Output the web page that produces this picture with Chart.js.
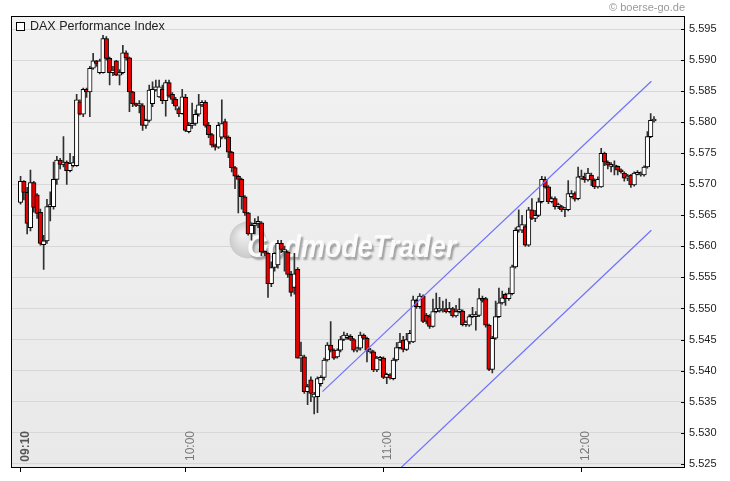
<!DOCTYPE html>
<html>
<head>
<meta charset="utf-8">
<script src="https://cdn.jsdelivr.net/npm/chart.js"></script>
<style>
  html, body { margin: 0; padding: 0; background: #fff; }
</style>
</head>
<body>
<canvas id="myChart" width="730" height="481"></canvas>
<script>
// one candle per minute, index 0 = 09:10
const opens = [
  5567.1, 5570.5, 5568.7, 5563.0, 5570.3, 5568.3, 5565.5, 5560.3, 5560.9, 5566.4,
  5566.4, 5570.8, 5573.9, 5573.2, 5573.6, 5572.2, 5573.0, 5573.0, 5583.3, 5581.3,
  5585.3, 5584.9, 5588.7, 5589.9, 5588.0, 5588.0, 5593.5, 5590.3, 5588.0, 5589.9,
  5587.6, 5588.0, 5591.2, 5590.4, 5584.9, 5583.0, 5582.7, 5582.7, 5579.5, 5580.3,
  5583.0, 5585.2, 5584.1, 5585.3, 5583.5, 5586.4, 5584.5, 5583.7, 5582.2, 5581.4,
  5584.0, 5578.5, 5579.5, 5579.8, 5581.3, 5582.8, 5583.2, 5579.5, 5578.0, 5576.3,
  5576.0, 5577.6, 5580.1, 5577.6, 5575.2, 5572.7, 5571.3, 5570.8, 5568.0, 5565.4,
  5562.0, 5563.4, 5563.7, 5563.8, 5559.1, 5558.9, 5554.0, 5556.6, 5557.0, 5560.5,
  5559.1, 5559.1, 5555.5, 5553.4, 5556.3, 5542.0, 5542.2, 5536.6, 5538.5, 5535.7,
  5535.8, 5537.9, 5538.9, 5541.7, 5544.1, 5543.3, 5542.2, 5543.3, 5545.0, 5545.3,
  5545.5, 5545.0, 5543.3, 5543.6, 5545.7, 5545.2, 5543.0, 5543.0, 5540.1, 5541.8,
  5542.0, 5538.9, 5539.3, 5538.7, 5541.7, 5543.7, 5544.9, 5543.4, 5544.6, 5544.6,
  5551.3, 5550.3, 5552.0, 5548.9, 5548.7, 5547.1, 5549.5, 5549.6, 5549.6, 5550.0,
  5549.5, 5550.0, 5548.8, 5549.5, 5549.6, 5547.4, 5547.3, 5548.7, 5548.7, 5548.9,
  5551.6, 5551.6, 5547.3, 5540.2, 5545.2, 5548.7, 5550.9, 5552.3, 5551.6, 5552.4,
  5556.7, 5562.6, 5562.6, 5563.2, 5560.2, 5565.9, 5564.5, 5565.0, 5567.2, 5570.8,
  5569.6, 5567.2, 5567.7, 5566.4, 5566.4, 5565.9, 5565.9, 5568.0, 5568.5, 5567.7,
  5571.0, 5571.1, 5570.7, 5571.5, 5570.7, 5569.6, 5569.6, 5575.0, 5573.6, 5572.9,
  5572.8, 5572.9, 5572.3, 5571.8, 5571.0, 5571.5, 5569.9, 5571.6, 5571.5, 5571.5,
  5572.8, 5577.7, 5580.2
];
const highs = [
  5571.3, 5570.6, 5569.5, 5572.3, 5570.5, 5568.5, 5566.0, 5561.8, 5567.6, 5568.8,
  5573.6, 5574.5, 5574.2, 5577.7, 5573.8, 5575.0, 5574.5, 5584.5, 5583.6, 5585.5,
  5585.5, 5589.0, 5591.1, 5590.0, 5590.2, 5594.0, 5593.8, 5590.5, 5589.0, 5590.0,
  5588.5, 5592.4, 5591.5, 5590.5, 5585.0, 5583.1, 5583.5, 5583.0, 5580.5, 5586.0,
  5586.5, 5586.8, 5586.8, 5586.0, 5586.8, 5586.8, 5584.8, 5584.0, 5582.5, 5585.3,
  5584.5, 5580.0, 5583.1, 5582.0, 5584.5, 5583.5, 5583.5, 5580.0, 5578.2, 5576.5,
  5580.0, 5583.6, 5580.5, 5577.8, 5575.3, 5572.9, 5571.5, 5571.0, 5568.2, 5565.5,
  5563.8, 5564.5, 5564.8, 5564.0, 5559.3, 5559.0, 5557.5, 5559.0, 5561.0, 5561.0,
  5560.0, 5559.3, 5556.0, 5558.9, 5556.6, 5544.6, 5542.5, 5537.8, 5539.0, 5536.5,
  5539.0, 5539.2, 5542.0, 5544.5, 5547.9, 5543.5, 5543.5, 5545.5, 5546.2, 5546.0,
  5545.8, 5545.2, 5543.8, 5546.2, 5545.9, 5545.4, 5543.6, 5543.2, 5542.3, 5542.3,
  5542.2, 5539.6, 5539.5, 5542.0, 5544.5, 5546.0, 5545.5, 5546.0, 5546.5, 5552.0,
  5551.5, 5552.4, 5552.2, 5549.2, 5549.0, 5551.5, 5552.5, 5551.8, 5551.2, 5551.5,
  5551.0, 5550.2, 5550.5, 5551.6, 5549.8, 5548.0, 5549.0, 5550.2, 5549.5, 5553.2,
  5552.0, 5551.8, 5547.5, 5545.5, 5551.2, 5553.3, 5552.8, 5552.5, 5553.3, 5557.0,
  5563.0, 5565.9, 5565.0, 5563.5, 5566.3, 5567.7, 5565.8, 5567.8, 5571.3, 5571.2,
  5569.8, 5568.0, 5568.0, 5567.0, 5566.6, 5566.3, 5570.6, 5569.0, 5568.8, 5572.8,
  5572.3, 5571.8, 5572.6, 5571.8, 5570.9, 5571.2, 5575.8, 5575.2, 5573.8, 5573.5,
  5573.8, 5573.0, 5572.5, 5572.0, 5571.6, 5571.6, 5572.0, 5572.2, 5572.0, 5573.0,
  5578.5, 5581.4, 5580.9
];
const lows = [
  5566.8, 5567.5, 5562.0, 5562.5, 5565.5, 5564.5, 5560.2, 5556.3, 5560.5, 5564.1,
  5566.0, 5570.0, 5572.5, 5572.8, 5570.0, 5572.0, 5572.8, 5572.9, 5581.2, 5580.9,
  5584.0, 5580.9, 5588.5, 5589.0, 5587.8, 5587.9, 5590.0, 5586.0, 5587.5, 5587.5,
  5586.0, 5587.8, 5590.0, 5581.7, 5582.5, 5582.5, 5581.5, 5578.7, 5579.0, 5580.0,
  5582.5, 5585.0, 5584.0, 5583.0, 5581.0, 5584.0, 5583.0, 5582.0, 5580.9, 5581.3,
  5578.5, 5578.3, 5579.0, 5579.5, 5581.0, 5582.5, 5579.2, 5577.5, 5576.0, 5575.5,
  5575.8, 5577.3, 5577.3, 5574.3, 5572.0, 5569.3, 5565.4, 5566.0, 5565.0, 5561.8,
  5561.0, 5562.0, 5563.0, 5558.5, 5558.5, 5551.8, 5553.5, 5556.0, 5556.5, 5559.0,
  5556.0, 5555.0, 5552.0, 5552.3, 5542.0, 5539.8, 5536.3, 5534.5, 5535.0, 5533.0,
  5533.2, 5537.5, 5538.5, 5541.5, 5543.0, 5541.8, 5542.0, 5543.0, 5544.8, 5545.0,
  5544.8, 5543.0, 5543.0, 5543.3, 5545.0, 5541.4, 5542.8, 5539.8, 5539.8, 5541.6,
  5538.7, 5537.9, 5538.6, 5538.5, 5541.5, 5543.5, 5543.0, 5543.2, 5544.3, 5544.5,
  5550.0, 5550.0, 5547.7, 5547.5, 5546.8, 5547.0, 5549.3, 5549.4, 5549.4, 5549.3,
  5549.3, 5548.6, 5548.6, 5549.3, 5547.2, 5547.1, 5547.1, 5548.5, 5546.5, 5548.7,
  5551.0, 5547.0, 5540.0, 5539.6, 5545.0, 5548.5, 5550.7, 5550.5, 5551.3, 5552.2,
  5556.5, 5562.3, 5562.2, 5560.0, 5560.0, 5564.3, 5564.0, 5564.8, 5567.0, 5569.4,
  5566.9, 5567.0, 5566.0, 5566.1, 5565.6, 5564.8, 5565.7, 5567.8, 5567.3, 5567.5,
  5570.8, 5570.3, 5570.5, 5569.8, 5569.3, 5569.4, 5569.5, 5573.0, 5572.5, 5572.0,
  5571.5, 5571.5, 5571.8, 5570.5, 5570.6, 5569.5, 5569.7, 5571.5, 5571.3, 5571.3,
  5572.6, 5577.5, 5580.0
];
const closes = [
  5570.5, 5568.7, 5563.7, 5570.3, 5566.3, 5565.3, 5560.5, 5560.9, 5566.4, 5566.6,
  5570.8, 5573.9, 5573.2, 5573.6, 5572.2, 5573.4, 5573.5, 5583.6, 5581.3, 5585.3,
  5584.9, 5588.7, 5589.9, 5589.5, 5589.9, 5593.5, 5590.3, 5588.0, 5588.4, 5587.6,
  5588.0, 5591.2, 5590.4, 5584.9, 5583.0, 5582.7, 5582.9, 5579.5, 5580.3, 5585.2,
  5585.3, 5585.7, 5585.7, 5583.5, 5586.4, 5584.2, 5583.7, 5582.6, 5581.4, 5584.1,
  5578.7, 5579.5, 5579.8, 5581.3, 5582.8, 5583.2, 5579.5, 5578.0, 5576.3, 5576.0,
  5579.5, 5579.8, 5577.6, 5575.2, 5572.7, 5571.3, 5570.8, 5568.0, 5565.4, 5562.0,
  5563.4, 5563.7, 5563.8, 5559.1, 5558.9, 5554.0, 5556.6, 5558.9, 5560.5, 5559.5,
  5559.5, 5555.5, 5552.6, 5555.6, 5542.0, 5542.4, 5536.6, 5537.4, 5536.3, 5536.2,
  5538.7, 5538.9, 5541.7, 5544.1, 5543.3, 5542.0, 5543.3, 5545.0, 5545.7, 5545.5,
  5545.0, 5543.3, 5543.6, 5545.7, 5545.2, 5543.3, 5543.3, 5540.1, 5542.0, 5542.0,
  5538.9, 5539.4, 5538.8, 5541.7, 5543.7, 5544.6, 5543.4, 5545.0, 5546.0, 5551.4,
  5550.3, 5552.0, 5547.9, 5547.9, 5547.1, 5549.5, 5550.0, 5550.0, 5549.9, 5549.5,
  5550.0, 5548.8, 5549.5, 5549.7, 5547.4, 5547.8, 5548.7, 5548.9, 5548.9, 5551.6,
  5551.3, 5547.3, 5540.2, 5545.2, 5548.7, 5550.9, 5551.7, 5551.6, 5552.4, 5556.7,
  5562.6, 5563.2, 5563.5, 5560.2, 5565.9, 5564.5, 5565.0, 5567.2, 5570.8, 5569.6,
  5567.2, 5567.7, 5566.4, 5566.6, 5565.9, 5566.0, 5568.5, 5568.5, 5567.6, 5571.2,
  5571.3, 5570.7, 5571.8, 5570.7, 5569.6, 5570.8, 5575.0, 5573.6, 5573.1, 5573.1,
  5573.0, 5572.3, 5572.0, 5571.0, 5571.3, 5569.9, 5571.8, 5571.8, 5571.7, 5572.8,
  5577.7, 5580.3, 5580.4
];

// x axis ticks (minutes after 09:10)
const xTickPos = [0, 50, 110, 170];
const xTickLabels = ['09:10', '10:00', '11:00', '12:00'];

// trend channel drawn on the chart
const upperX = [91.5, 191.2];
const upperY = [5536.6, 5586.6];
const lowerX = [115, 191.2];
const lowerY = [5524.2, 5562.6];

const FONT = "'Liberation Sans', Arial, sans-serif";

const bodies = [], wicks = [], bodyColors = [];
for (let i = 0; i < closes.length; i++) {
    bodies.push({ x: i, y: [opens[i], closes[i]] });
    wicks.push({ x: i, y: [lows[i], highs[i]] });
    bodyColors.push(closes[i] >= opens[i] ? '#ffffff' : '#e60000');
}

const decor = {
    id: 'decor',
    beforeDraw(chart) {
        const { ctx, chartArea: a } = chart;
        const g = ctx.createLinearGradient(0, a.top, 0, a.bottom);
        g.addColorStop(0, '#f2f2f2');
        g.addColorStop(1, '#e9e9e9');
        ctx.save();
        ctx.fillStyle = g;
        ctx.fillRect(a.left, a.top, a.right - a.left, a.bottom - a.top);
        ctx.restore();
    },
    beforeDatasetsDraw(chart) {
        const { ctx } = chart;
        const x = chart.scales.x;
        ctx.save();
        // time labels sit inside the plot, rotated, just above the bottom frame
        x.ticks.forEach((t, i) => {
            ctx.save();
            ctx.translate(Math.round(x.getPixelForValue(t.value)) + 5, 431);
            ctx.rotate(-Math.PI / 2);
            ctx.textAlign = 'right';
            ctx.textBaseline = 'middle';
            ctx.font = (i === 0 ? 'bold ' : '') + "12px 'Liberation Sans', Arial, sans-serif";
            ctx.fillStyle = i === 0 ? '#555' : '#777';
            ctx.fillText(xTickLabels[xTickPos.indexOf(t.value)], 0, 0);
            ctx.restore();
        });
        // GodmodeTrader watermark
        const cx = 248, cy = 240;
        const rg = ctx.createRadialGradient(cx - 5, cy - 6, 2, cx, cy, 19);
        rg.addColorStop(0, '#eeeeee');
        rg.addColorStop(1, '#c9c9c9');
        ctx.beginPath();
        ctx.arc(cx, cy, 18.5, 0, Math.PI * 2);
        ctx.fillStyle = rg;
        ctx.fill();
        ctx.translate(247, 257);
        ctx.scale(0.87, 1);
        ctx.font = "italic bold 31px 'Liberation Sans', Arial, sans-serif";
        ctx.textBaseline = 'alphabetic';
        ctx.shadowColor = 'rgba(140,140,140,0.8)';
        ctx.shadowOffsetX = 2;
        ctx.shadowOffsetY = 3;
        ctx.shadowBlur = 2;
        ctx.fillStyle = '#fbfbfb';
        ctx.fillText('GodmodeTrader', 0, 0);
        ctx.restore();
    },
    afterDraw(chart) {
        const { ctx, chartArea: a } = chart;
        const y = chart.scales.y;
        ctx.save();
        // inward tick marks on the right axis
        ctx.strokeStyle = '#000';
        ctx.lineWidth = 1;
        ctx.beginPath();
        y.ticks.forEach(t => {
            const py = Math.round(y.getPixelForValue(t.value)) + 0.5;
            ctx.moveTo(a.right - 4, py);
            ctx.lineTo(a.right, py);
        });
        ctx.stroke();
        // frame
        ctx.strokeRect(Math.round(a.left) + 0.5, Math.round(a.top) + 0.5,
            Math.round(a.right - a.left) - 1, Math.round(a.bottom - a.top) - 1);
        // legend
        ctx.fillStyle = '#fff';
        ctx.fillRect(16.5, 22.5, 8, 8);
        ctx.strokeRect(16.5, 22.5, 8, 8);
        ctx.fillStyle = '#222';
        ctx.font = "12.5px 'Liberation Sans', Arial, sans-serif";
        ctx.textBaseline = 'middle';
        ctx.fillText('DAX Performance Index', 30, 27);
        ctx.restore();
    }
};

const config = {
    type: 'bar',
    data: {
        datasets: [
            {
                type: 'line',
                data: upperX.map((x, i) => ({ x, y: upperY[i] })),
                borderColor: '#7070ff',
                borderWidth: 1.2,
                pointRadius: 0,
                fill: false,
                order: -1
            },
            {
                type: 'line',
                data: lowerX.map((x, i) => ({ x, y: lowerY[i] })),
                borderColor: '#7070ff',
                borderWidth: 1.2,
                pointRadius: 0,
                fill: false,
                order: -1
            },
            {
                data: bodies,
                backgroundColor: bodyColors,
                borderColor: '#000',
                borderWidth: 1,
                borderSkipped: false,
                barThickness: 4.5,
                minBarLength: 2,
                grouped: false,
                order: 0
            },
            {
                data: wicks,
                backgroundColor: '#303030',
                borderWidth: 0,
                barThickness: 1,
                grouped: false,
                order: 1
            }
        ]
    },
    options: {
        responsive: false,
        animation: false,
        events: [],
        layout: { padding: { left: 11, right: 0, top: 0, bottom: 0 } },
        scales: {
            x: {
                type: 'linear',
                min: -2.9,
                max: 201.4,
                offset: false,
                afterBuildTicks: s => { s.ticks = xTickPos.map(v => ({ value: v })); },
                afterFit: s => { s.height = 13; },
                grid: {
                    drawOnChartArea: false,
                    drawTicks: true,
                    tickLength: 4,
                    tickColor: '#000',
                    offset: false
                },
                border: { display: false },
                ticks: {
                    display: false,
                    autoSkip: false,
                    callback: v => xTickLabels[xTickPos.indexOf(v)]
                }
            },
            y: {
                position: 'right',
                min: 5524.3,
                max: 5597.09,
                afterFit: s => { s.width = 45; },
                grid: { color: '#d8d8d8', drawTicks: false },
                border: { display: false },
                ticks: {
                    stepSize: 5,
                    includeBounds: false,
                    padding: 4,
                    color: '#222',
                    font: { family: FONT, size: 11 },
                    callback: v => (v / 1000).toFixed(3)
                }
            }
        },
        plugins: {
            legend: { display: false },
            tooltip: { enabled: false },
            title: {
                display: true,
                text: '\u00a9 boerse-go.de',
                align: 'end',
                fullSize: false,
                color: '#999',
                font: { family: FONT, size: 11, weight: 'normal' },
                padding: { top: 1, bottom: 2 }
            }
        }
    },
    plugins: [decor]
};

const myChart = new Chart(document.getElementById('myChart'), config);
</script>
</body>
</html>
